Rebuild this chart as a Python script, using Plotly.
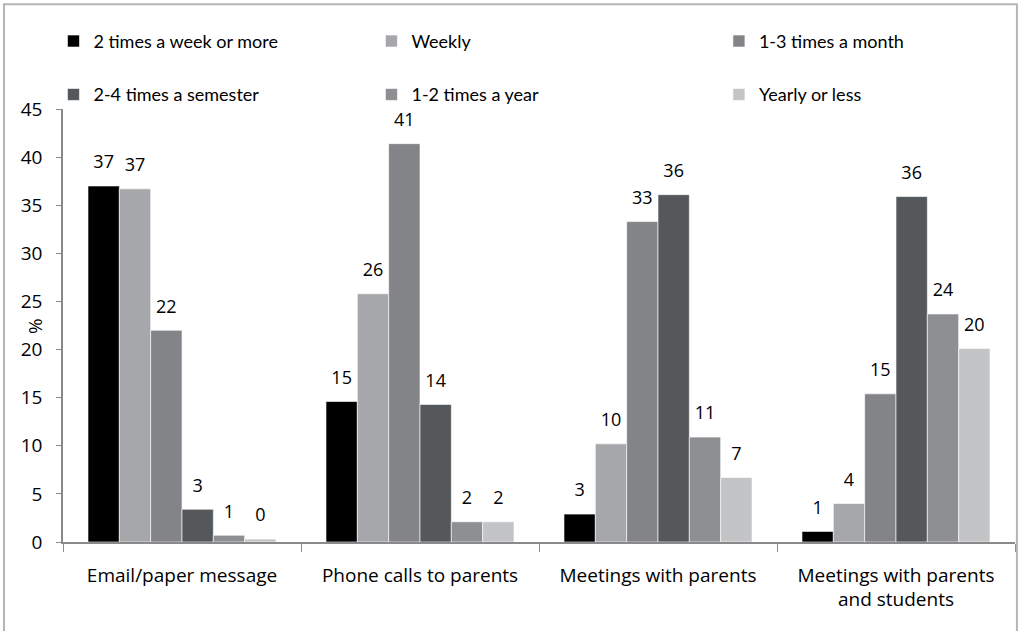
import plotly.graph_objects as go

categories = ["Email/paper message", "Phone calls to parents",
              "Meetings with parents", "Meetings with parents<br>and students"]

series_names = ["2 times a week or more", "Weekly", "1-3 times a month",
                "2-4 times a semester", "1-2 times a year", "Yearly or less"]

week2_plus = [37.0, 14.6, 2.9, 1.1]
weekly = [36.7, 25.8, 10.2, 4.0]
month_1_3 = [22.0, 41.4, 33.3, 15.4]
semester_2_4 = [3.4, 14.3, 36.1, 35.9]
year_1_2 = [0.7, 2.1, 10.9, 23.7]
yearly_less = [0.3, 2.1, 6.7, 20.1]

labels = [
    [37, 15, 3, 1],
    [37, 26, 10, 4],
    [22, 41, 33, 15],
    [3, 14, 36, 36],
    [1, 2, 11, 24],
    [0, 2, 7, 20],
]

colors = ["#000000", "#a6a7aa", "#838487", "#55585b", "#8e8f92", "#c3c4c6"]
legend_ids = ["legend", "legend2", "legend3", "legend", "legend2", "legend3"]

values = [week2_plus, weekly, month_1_3, semester_2_4, year_1_2, yearly_less]

fig = go.Figure()
for i, name in enumerate(series_names):
    fig.add_trace(go.Bar(
        x=categories,
        y=values[i],
        name=name,
        marker=dict(color=colors[i], line=dict(color="rgba(255,255,255,0.6)", width=1)),
        # small base font + spacer line lifts the label a bit above the bar
        text=["<span style='font-size:18px'>%d</span><br> " % v for v in labels[i]],
        textposition="outside",
        constraintext="none",
        textfont=dict(family="Open Sans", size=9, color="#000000"),
        cliponaxis=False,
        legend=legend_ids[i],
        legendgroup=name,
    ))

legend_font = dict(family="Lato", size=18, color="#000000")
legend_common = dict(orientation="v", yanchor="top", y=1.199, tracegroupgap=27,
                     font=legend_font, bgcolor="rgba(0,0,0,0)", itemclick=False)

fig.update_layout(
    width=1018, height=631,
    margin=dict(l=63, r=3, t=109, b=89, autoexpand=False),
    paper_bgcolor="white", plot_bgcolor="white",
    barmode="group", bargap=0.21, bargroupgap=0,
    font=dict(family="Open Sans", size=18, color="#000000"),
    legend=dict(x=-0.01, **legend_common),
    legend2=dict(x=0.324, **legend_common),
    legend3=dict(x=0.689, **legend_common),
    xaxis=dict(
        showline=True, linecolor="#8a8a8a", linewidth=1.5,
        ticks="outside", tickson="boundaries", ticklen=8, tickcolor="#8a8a8a",
        ticklabelstandoff=15, tickfont=dict(size=19),
    ),
    yaxis=dict(
        range=[0, 45], dtick=5, showgrid=False, zeroline=False,
        showline=True, linecolor="#8a8a8a", linewidth=1.5,
        ticks="outside", ticklen=5, tickcolor="#8a8a8a",
        ticklabelstandoff=10, tickfont=dict(size=19),
    ),
    annotations=[dict(text="%", textangle=-90, xref="paper", yref="paper",
                      x=-0.03, y=0.5, xanchor="center", yanchor="middle",
                      showarrow=False, font=dict(size=19))],
    shapes=[dict(type="rect", xref="paper", yref="paper",
                 x0=-0.062, x1=1.002, y0=-0.3, y1=1.242,
                 line=dict(color="#b5b5b5", width=2))],
)

fig.write_html("out.html", config={"displayModeBar": False},
               post_script="document.body.style.margin='0';")
